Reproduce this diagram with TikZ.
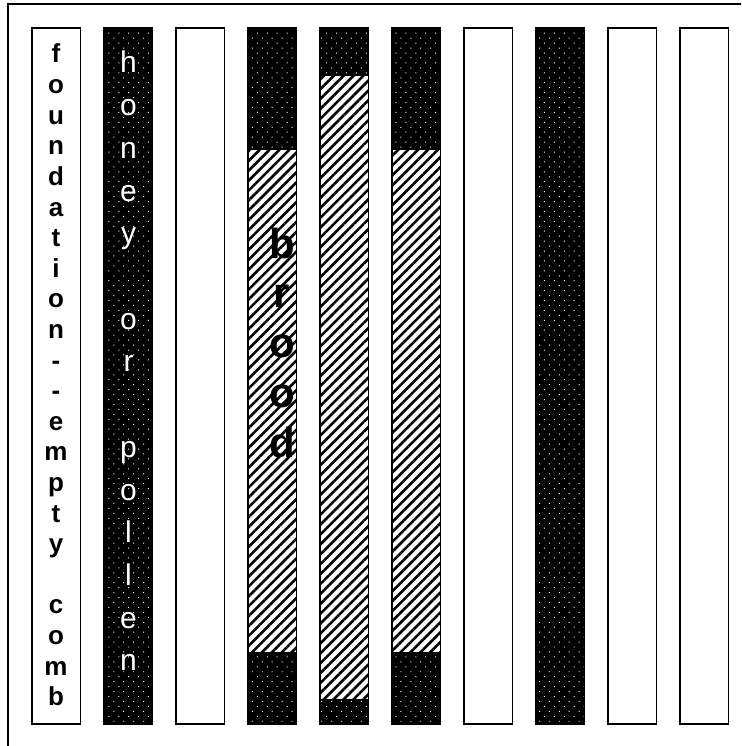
\documentclass[tikz,border=0pt]{standalone}
\usepackage{fontspec}
\setmainfont{Liberation Sans}
\usetikzlibrary{patterns.meta}
\tikzset{
	frame/.style     ={draw=black, line width=1.5pt},
	comb/.style      ={draw=black, line width=1.5pt},
	honeyfill/.style ={fill=black, postaction={pattern={Dots[distance=7pt, angle=45, radius=0.7pt]}, pattern color=white}},
	broodfill/.style ={fill=white, postaction={pattern={Lines[angle=45, distance=7pt, line width=2.6pt]}, pattern color=black}},
	% letter styles
	fndtxt/.style    ={anchor=base, inner sep=0pt, font=\fontsize{26}{26}\selectfont\bfseries},
	honeytxt/.style  ={anchor=base, inner sep=0pt, text=white, font=\fontsize{30}{30}\selectfont},
	broodtxt/.style  ={anchor=base, inner sep=0pt, font=\fontsize{42}{42}\selectfont\bfseries},
}
\begin{document}
\begin{tikzpicture}[x=1pt, y=-1pt]
	\useasboundingbox (0,0) rectangle (741,746);
	\clip (0,0) rectangle (741,746);
	\draw[frame] (8,4) rectangle (770,770);
	% full honey frames
	\foreach \i in {2,8}
		\fill[honeyfill] ({32+72*(\i-1)},28) rectangle +(48.5,696);
	% brood frames, honey cap top and bottom
	\foreach \i in {4,6} {
		\fill[honeyfill] ({32+72*(\i-1)},28) rectangle +(48.5,696);
		\fill[broodfill] ({32+72*(\i-1)},150) rectangle +(48.5,502);
	}
	\fill[honeyfill] (320,28) rectangle +(48.5,696);
	\fill[broodfill] (320,76) rectangle +(48.5,623);
	% outlines of all ten frames
	\foreach \i in {1,...,10}
		\draw[comb] ({32+72*(\i-1)},28) rectangle +(48.5,696);
	% labels
	\foreach \ch [count=\n] in {f,o,u,n,d,a,t,i,o,n,-,-,e,m,p,t,y,{},c,o,m,b}
		\node[fndtxt] (fnd\n) at (56,{63+30.6*(\n-1)}) {\ch};
	\foreach \ch [count=\n] in {h,o,n,e,y,{},o,r,{},p,o,l,l,e,n}
		\node[honeytxt] (hny\n) at (128.5,{73+42.7*(\n-1)}) {\ch};
	\foreach \ch [count=\n] in {b,r,o,o,d}
		\node[broodtxt] (brd\n) at (282,{258+49.75*(\n-1)}) {\ch};
\end{tikzpicture}
\end{document}
